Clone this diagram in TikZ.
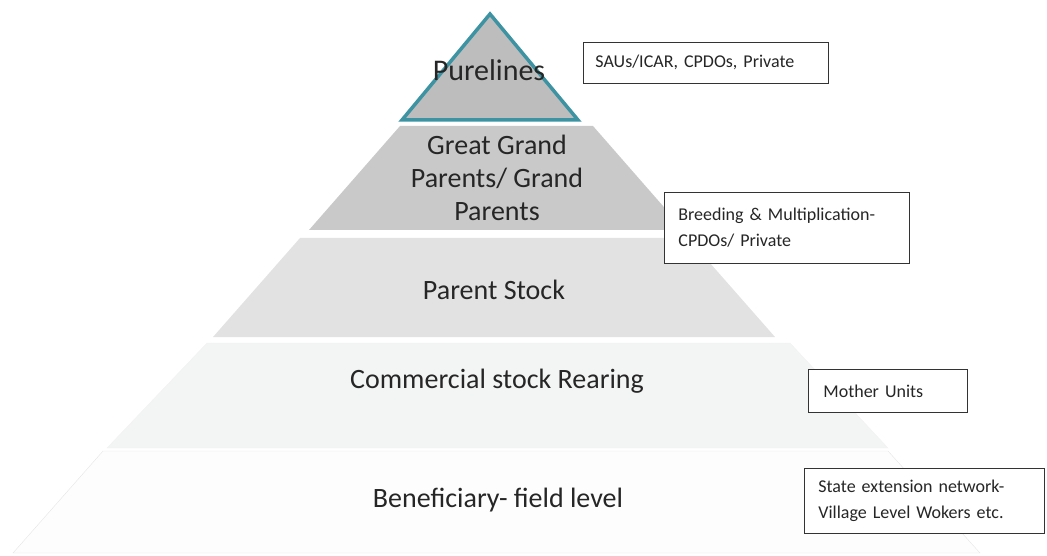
\documentclass[tikz,border=0pt]{standalone}
\usepackage{fontspec}
\setmainfont{Carlito}
\usepackage{tikz}

\definecolor{tealedge}{HTML}{3E93A3}
\definecolor{layerA}{HTML}{BDBDBD}
\definecolor{layerB}{HTML}{C9C9C9}
\definecolor{layerC}{HTML}{E2E2E2}
\definecolor{layerD}{HTML}{F3F4F4}
\definecolor{layerE}{HTML}{FDFDFD}

\begin{document}
\begin{tikzpicture}[x=1pt,y=-1pt,
    level/.style={align=center,font=\fontsize{28}{33}\selectfont,text=black!85},
    note/.style={draw=black!80,line width=0.8pt,fill=white,align=left,anchor=north west,
      inner sep=0pt,font=\fontsize{18}{26}\selectfont,text=black!85}]
      \useasboundingbox (0,0) rectangle (1047,556);
      % pyramid layers
      \fill[layerE,draw=black!10] (103,451) -- (888,451) -- (980,553) -- (13,553) -- cycle;
      \fill[layerD,draw=black!5] (207,343) -- (790,343) -- (888,448) -- (107,448) -- cycle;
      \fill[layerC] (300,238) -- (688,238) -- (775,337) -- (213,337) -- cycle;
      \fill[layerB] (400,126) -- (593,126) -- (684,230) -- (309,230) -- cycle;
      \filldraw[fill=layerA,draw=tealedge,line width=3.5pt] (490,14) -- (578,120) -- (402,120) -- cycle;
      % layer labels
      \node[level,font=\fontsize{30}{33}\selectfont] (pure) at (489,70) {Purelines};
      \node[level] (ggp) at (497,178) {Great Grand\\Parents/ Grand\\Parents};
      \node[level] (ps) at (494,290) {Parent Stock};
      \node[level] (csr) at (497,381) {Commercial stock Rearing};
      \node[level] (bfl) at (498,500) {Beneficiary- field level};
      % side notes
      \node[note,minimum width=245pt,minimum height=41pt,text width=221pt,inner xsep=12pt] (sau) at (583,42) {SAUs/ICAR, CPDOs, Private};
      \node[note,minimum width=245pt,minimum height=71pt,text width=217pt,inner xsep=14pt] (bm) at (664,192) {Breeding \& Multiplication-\\CPDOs/ Private};
      \node[note,minimum width=159pt,minimum height=43pt,text width=129pt,inner xsep=15pt] (mu) at (808,369) {Mother Units};
      \node[note,minimum width=240pt,minimum height=65pt,text width=212pt,inner xsep=14pt] (sen) at (804,468) {State extension network-\\Village Level Wokers etc.};
\end{tikzpicture}
\end{document}
